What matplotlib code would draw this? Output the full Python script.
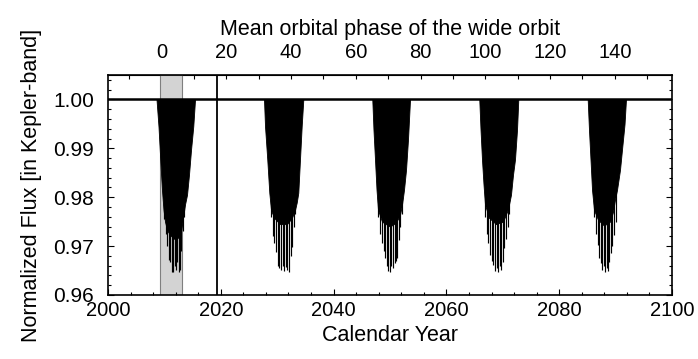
import matplotlib
matplotlib.use("Agg")
import matplotlib.pyplot as plt
from matplotlib.ticker import MultipleLocator

plt.rcParams['font.family'] = ['Liberation Sans', 'DejaVu Sans']

# ---------------- data ----------------
year_range = [2000, 2100]
flux_range = [0.96, 1.005]
baseline_flux = 1.0

kepler_window = [2009.2, 2013.2]
present_year = 2019.4

phase_zero_year = 2009.5
phase_unit_years = 0.574

# dip bodies: lower edge of the solid region
dip1_year = [2008.60, 2008.95, 2009.31, 2009.57, 2009.84, 2010.11, 2010.46, 2010.99, 2011.70,
             2012.41, 2012.85, 2013.12, 2013.39, 2013.65, 2014.01, 2014.36, 2014.72, 2015.12, 2015.43]
dip1_flux = [1.0, 0.9945, 0.9867, 0.9815, 0.9774, 0.9750, 0.9733, 0.9723, 0.9715,
             0.9717, 0.9723, 0.9744, 0.9764, 0.9785, 0.9805, 0.9846, 0.9897, 0.9945, 1.0]
dip1_spike_year = [2009.9, 2010.2, 2010.5, 2010.75, 2011.0, 2011.3, 2011.55, 2011.85, 2012.05,
                   2012.3, 2012.5, 2012.75, 2013.0, 2013.25, 2013.5]
dip1_spike_flux = [0.9755, 0.9725, 0.9700, 0.9672, 0.9668, 0.9647, 0.9647, 0.9660, 0.9651,
                   0.9668, 0.9647, 0.9651, 0.9690, 0.9730, 0.9760]

dip2_year = [2027.66, 2027.84, 2028.24, 2028.60, 2028.90, 2029.43, 2030.50, 2031.74,
             2032.62, 2033.16, 2033.46, 2033.74, 2034.04, 2034.34, 2034.63]
dip2_flux = [1.0, 0.9945, 0.9877, 0.9809, 0.9774, 0.9758, 0.9745, 0.9745,
             0.9758, 0.9774, 0.9789, 0.9809, 0.9877, 0.9945, 1.0]
dip2_spike_year = [2028.9, 2029.2, 2029.5, 2029.8, 2030.1, 2030.35, 2030.7, 2031.0, 2031.25,
                   2031.55, 2031.8, 2032.1, 2032.4, 2032.65, 2032.9, 2033.2]
dip2_spike_flux = [0.9760, 0.9720, 0.9707, 0.9688, 0.9660, 0.9655, 0.9651, 0.9660, 0.9649,
                   0.9658, 0.9651, 0.9647, 0.9680, 0.9698, 0.9740, 0.9765]

dip3_year = [2046.86, 2047.07, 2047.34, 2047.61, 2047.87, 2048.58, 2050.00, 2051.06,
             2051.77, 2052.13, 2052.48, 2052.84, 2053.19, 2053.37, 2053.55]
dip3_flux = [1.0, 0.9938, 0.9877, 0.9815, 0.9774, 0.9750, 0.9740, 0.9748,
             0.9764, 0.9785, 0.9815, 0.9856, 0.9918, 0.9959, 1.0]
dip3_spike_year = [2047.9, 2048.3, 2048.6, 2048.9, 2049.15, 2049.45, 2049.7, 2050.0, 2050.25,
                   2050.5, 2050.8, 2051.05, 2051.3, 2051.6, 2051.85, 2052.1]
dip3_spike_flux = [0.9760, 0.9725, 0.9707, 0.9690, 0.9676, 0.9660, 0.9649, 0.9647, 0.9660,
                   0.9655, 0.9666, 0.9670, 0.9676, 0.9713, 0.9740, 0.9765]

dip4_year = [2065.83, 2066.05, 2066.31, 2066.58, 2066.84, 2067.55, 2068.79, 2070.04,
             2070.74, 2071.10, 2071.45, 2071.81, 2072.16, 2072.52, 2072.75]
dip4_flux = [1.0, 0.9938, 0.9877, 0.9826, 0.9785, 0.9758, 0.9745, 0.9750,
             0.9770, 0.9785, 0.9805, 0.9846, 0.9877, 0.9938, 1.0]
dip4_spike_year = [2066.9, 2067.2, 2067.45, 2067.8, 2068.1, 2068.35, 2068.7, 2068.95, 2069.2,
                   2069.45, 2069.7, 2070.0, 2070.3, 2070.6, 2070.85, 2071.1]
dip4_spike_flux = [0.9760, 0.9725, 0.9707, 0.9682, 0.9670, 0.9662, 0.9649, 0.9655, 0.9647,
                   0.9660, 0.9651, 0.9668, 0.9696, 0.9715, 0.9740, 0.9765]

dip5_year = [2085.05, 2085.28, 2085.55, 2085.82, 2086.17, 2086.88, 2087.94, 2089.01,
             2089.54, 2089.89, 2090.25, 2090.78, 2091.13, 2091.58, 2091.84]
dip5_flux = [1.0, 0.9938, 0.9877, 0.9815, 0.9774, 0.9754, 0.9742, 0.9750,
             0.9770, 0.9795, 0.9815, 0.9856, 0.9897, 0.9949, 1.0]
dip5_spike_year = [2086.2, 2086.5, 2086.8, 2087.1, 2087.4, 2087.65, 2087.9, 2088.1, 2088.4,
                   2088.6, 2088.9, 2089.2, 2089.45, 2089.75, 2090.0]
dip5_spike_flux = [0.9760, 0.9725, 0.9703, 0.9676, 0.9665, 0.9651, 0.9660, 0.9647, 0.9655,
                   0.9649, 0.9668, 0.9685, 0.9700, 0.9723, 0.9750]

x_major_ticks = [2000, 2020, 2040, 2060, 2080, 2100]
y_major_ticks = [0.96, 0.97, 0.98, 0.99, 1.00]
phase_ticks = [0, 20, 40, 60, 80, 100, 120, 140]

# ---------------- figure ----------------
fig = plt.figure(figsize=(6.98, 3.59), dpi=100)
ax = fig.add_axes([108 / 698, 1 - 295 / 359, (672 - 108) / 698, (295 - 75) / 359])

ax.axvspan(kepler_window[0], kepler_window[1], facecolor='#d3d3d3', edgecolor='#7f7f7f',
           linewidth=0.8, zorder=1)

dips = [(dip1_year, dip1_flux, dip1_spike_year, dip1_spike_flux),
        (dip2_year, dip2_flux, dip2_spike_year, dip2_spike_flux),
        (dip3_year, dip3_flux, dip3_spike_year, dip3_spike_flux),
        (dip4_year, dip4_flux, dip4_spike_year, dip4_spike_flux),
        (dip5_year, dip5_flux, dip5_spike_year, dip5_spike_flux)]
for yrs, fl, syrs, sfl in dips:
    ax.fill_between(yrs, fl, baseline_flux, facecolor='black', edgecolor='black',
                    linewidth=0.6, zorder=3)
    ax.vlines(syrs, sfl, baseline_flux, colors='black', linewidth=0.85, zorder=3)

ax.plot(year_range, [baseline_flux, baseline_flux], color='black', linewidth=1.8, zorder=4)
ax.axvline(present_year, color='black', linewidth=1.3, zorder=4)

ax.set_xlim(*year_range)
ax.set_ylim(*flux_range)
ax.set_xticks(x_major_ticks)
ax.xaxis.set_minor_locator(MultipleLocator(4))
ax.set_yticks(y_major_ticks)
ax.set_yticklabels([f"{v:.2f}" for v in y_major_ticks])
ax.yaxis.set_minor_locator(MultipleLocator(0.002))

ax.tick_params(axis='x', which='both', direction='in', top=False, bottom=True, labelsize=14.5, pad=4)
ax.tick_params(axis='y', which='both', direction='in', left=True, right=True, labelsize=15, pad=10)
ax.tick_params(which='major', length=4, width=0.8)
ax.tick_params(which='minor', length=2.5, width=0.8)
for s in ax.spines.values():
    s.set_linewidth(1.2)

ax.set_xlabel("Calendar Year", fontsize=15.5, labelpad=4)
ax.set_ylabel("Normalized Flux [in Kepler-band]", fontsize=15.5, labelpad=8)

sec = ax.secondary_xaxis('top', functions=(lambda y: (y - phase_zero_year) / phase_unit_years,
                                           lambda p: p * phase_unit_years + phase_zero_year))
sec.set_xticks(phase_ticks)
sec.xaxis.set_minor_locator(MultipleLocator(10))
sec.tick_params(which='both', direction='in', labelsize=14.5, pad=9)
sec.tick_params(which='major', length=3, width=0.8)
sec.tick_params(which='minor', length=3, width=0.8)
sec.set_xlabel("Mean orbital phase of the wide orbit", fontsize=15.5, labelpad=6)

fig.savefig("out.png", dpi=100)
